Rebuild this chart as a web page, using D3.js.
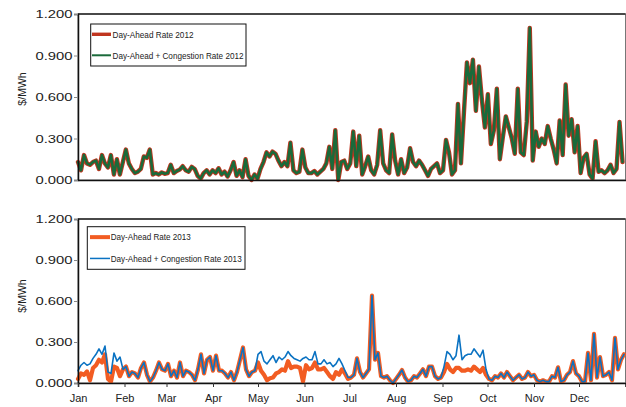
<!DOCTYPE html>
<html>
<head>
<meta charset="utf-8">
<script src="https://cdn.jsdelivr.net/npm/d3@7"></script>
<style>
  html, body { margin: 0; padding: 0; background: #fff; }
  svg { display: block; font-family: "Liberation Sans", Arial, sans-serif; }
</style>
</head>
<body>
<svg id="chart" width="626" height="407"></svg>
<script>
// Daily rates in $/MWh, one value every second day starting 1 January.
const sampleStep = 2;

const dayAhead2012 = [
  0.13, 0.07, 0.18, 0.12, 0.11, 0.13, 0.14, 0.08, 0.18, 0.12,
  0.09, 0.18, 0.04, 0.15, 0.04, 0.13, 0.22, 0.12, 0.08, 0.05,
  0.06, 0.08, 0.17, 0.16, 0.22, 0.04, 0.05, 0.04, 0.055, 0.045,
  0.05, 0.11, 0.05, 0.065, 0.075, 0.10, 0.07, 0.06, 0.095, 0.08,
  0.03, 0.01, 0.05, 0.07, 0.04, 0.07,
  0.05, 0.085, 0.04, 0.06, 0.025, 0.07, 0.13, 0.03, 0.07, 0.02,
  0.15, 0.03, 0.00, 0.04, 0.01, 0.08, 0.13, 0.20, 0.17, 0.205,
  0.19, 0.14, 0.10, 0.13, 0.10, 0.27, 0.07, 0.05, 0.06, 0.22,
  0.09, 0.05, 0.05, 0.065, 0.04, 0.06, 0.08, 0.12, 0.24, 0.08,
  0.36, 0.00, 0.13, 0.14, 0.08, 0.12,
  0.35, 0.10, 0.32, 0.04, 0.10, 0.17, 0.07, 0.04, 0.11, 0.36,
  0.12, 0.07, 0.05, 0.33, 0.14, 0.04, 0.15, 0.05, 0.09, 0.23,
  0.13, 0.10, 0.14, 0.11, 0.07, 0.03, 0.08, 0.10, 0.12, 0.05,
  0.07, 0.29, 0.20, 0.04, 0.07, 0.55, 0.12, 0.49, 0.85, 0.70,
  0.87, 0.50, 0.82, 0.58, 0.38, 0.62,
  0.26, 0.36, 0.66, 0.15, 0.31, 0.46, 0.38, 0.30, 0.19, 0.66,
  0.20, 0.18, 0.42, 1.10, 0.14, 0.35, 0.24, 0.30, 0.26, 0.39,
  0.30, 0.22, 0.12, 0.43, 0.18, 0.69, 0.32, 0.44, 0.20, 0.39,
  0.05, 0.16, 0.19, 0.04, 0.01, 0.28, 0.06, 0.07, 0.05, 0.07,
  0.11, 0.05, 0.08, 0.42, 0.13
];

const congestion2012 = [
  0.13, 0.07, 0.18, 0.12, 0.11, 0.13, 0.14, 0.08, 0.18, 0.12,
  0.09, 0.18, 0.04, 0.15, 0.04, 0.13, 0.22, 0.12, 0.08, 0.05,
  0.06, 0.08, 0.17, 0.16, 0.22, 0.04, 0.05, 0.04, 0.055, 0.045,
  0.05, 0.11, 0.05, 0.065, 0.075, 0.10, 0.07, 0.06, 0.095, 0.08,
  0.03, 0.01, 0.05, 0.07, 0.04, 0.07,
  0.05, 0.085, 0.04, 0.06, 0.025, 0.07, 0.13, 0.03, 0.07, 0.02,
  0.15, 0.03, 0.00, 0.04, 0.01, 0.08, 0.13, 0.20, 0.17, 0.205,
  0.19, 0.14, 0.10, 0.13, 0.10, 0.27, 0.07, 0.05, 0.06, 0.22,
  0.09, 0.05, 0.05, 0.065, 0.04, 0.06, 0.08, 0.12, 0.24, 0.08,
  0.36, 0.00, 0.13, 0.14, 0.08, 0.12,
  0.35, 0.10, 0.32, 0.04, 0.10, 0.17, 0.07, 0.04, 0.11, 0.36,
  0.12, 0.07, 0.05, 0.33, 0.14, 0.04, 0.15, 0.05, 0.09, 0.23,
  0.13, 0.10, 0.14, 0.11, 0.07, 0.03, 0.08, 0.10, 0.12, 0.05,
  0.07, 0.29, 0.20, 0.04, 0.07, 0.55, 0.12, 0.49, 0.85, 0.70,
  0.87, 0.50, 0.82, 0.58, 0.38, 0.62,
  0.26, 0.36, 0.66, 0.15, 0.31, 0.46, 0.38, 0.30, 0.19, 0.66,
  0.20, 0.18, 0.42, 1.10, 0.14, 0.35, 0.24, 0.30, 0.26, 0.39,
  0.30, 0.22, 0.12, 0.43, 0.18, 0.69, 0.32, 0.44, 0.20, 0.39,
  0.05, 0.16, 0.19, 0.04, 0.01, 0.28, 0.06, 0.07, 0.05, 0.07,
  0.11, 0.05, 0.08, 0.42, 0.13
];

const dayAhead2013 = [
  0.03, 0.07, 0.06, 0.085, 0.02, 0.11, 0.13, 0.17, 0.15, 0.21,
  0.03, 0.01, 0.12, 0.11, 0.05, 0.10, 0.12, 0.05, 0.08, 0.07,
  0.04, 0.11, 0.15, 0.06, 0.01, 0.04, 0.09, 0.15, 0.10, 0.09,
  0.14, 0.05, 0.09, 0.04, 0.15, 0.05, 0.09, 0.08, 0.06, 0.02,
  0.10, 0.21, 0.07, 0.17, 0.19, 0.09,
  0.20, 0.09, 0.09, 0.07, 0.04, 0.08, 0.02, 0.08, 0.17, 0.26,
  0.10, 0.05, 0.08, 0.09, 0.15, 0.09, 0.06, 0.02, 0.035, 0.04,
  0.07, 0.08, 0.10, 0.09, 0.16, 0.11, 0.12, 0.12, 0.11, 0.01,
  0.13, 0.10, 0.11, 0.15, 0.10, 0.10, 0.11, 0.08, 0.05, 0.03,
  0.08, 0.06, 0.10, 0.07, 0.03, 0.04,
  0.06, 0.18, 0.08, 0.04, 0.07, 0.10, 0.64, 0.17, 0.22, 0.05,
  0.04, 0.05, 0.02, 0.00, 0.03, 0.06, 0.095, 0.04, 0.01, 0.02,
  0.05, 0.04, 0.07, 0.10, 0.05, 0.12, 0.12, 0.05, 0.03, 0.04,
  0.08, 0.14, 0.10, 0.08, 0.11, 0.11, 0.09, 0.09, 0.10, 0.09,
  0.12, 0.10, 0.08, 0.11, 0.06, 0.03,
  0.02, 0.05, 0.04, 0.07, 0.04, 0.08, 0.05, 0.02, 0.04, 0.06,
  0.03, 0.04, 0.08, 0.05, 0.06, 0.02, 0.01, 0.02, 0.01, 0.01,
  0.05, 0.04, 0.115, 0.01, 0.02, 0.06, 0.08, 0.16, 0.07, 0.05,
  0.01, 0.01, 0.22, 0.02, 0.36, 0.04, 0.19, 0.05, 0.06, 0.08,
  0.02, 0.33, 0.10, 0.17, 0.21
];

const congestion2013 = [
  0.09, 0.13, 0.15, 0.13, 0.14, 0.18, 0.21, 0.25, 0.21, 0.27,
  0.08, 0.07, 0.22, 0.16, 0.19, 0.10, 0.12, 0.05, 0.08, 0.07,
  0.04, 0.11, 0.15, 0.06, 0.01, 0.04, 0.09, 0.15, 0.10, 0.09,
  0.14, 0.05, 0.09, 0.04, 0.15, 0.05, 0.09, 0.08, 0.06, 0.02,
  0.10, 0.21, 0.07, 0.17, 0.19, 0.09,
  0.20, 0.09, 0.09, 0.07, 0.04, 0.08, 0.02, 0.08, 0.17, 0.26,
  0.10, 0.05, 0.08, 0.09, 0.21, 0.23, 0.16, 0.14, 0.17, 0.20,
  0.15, 0.19, 0.17, 0.19, 0.23, 0.20, 0.18, 0.17, 0.16, 0.18,
  0.19, 0.17, 0.17, 0.23, 0.14, 0.14, 0.17, 0.14, 0.15, 0.12,
  0.14, 0.18, 0.14, 0.09, 0.04, 0.04,
  0.06, 0.18, 0.08, 0.04, 0.07, 0.10, 0.64, 0.17, 0.22, 0.05,
  0.04, 0.05, 0.02, 0.00, 0.03, 0.06, 0.095, 0.04, 0.01, 0.02,
  0.05, 0.04, 0.07, 0.10, 0.05, 0.12, 0.12, 0.05, 0.03, 0.04,
  0.12, 0.23, 0.21, 0.17, 0.20, 0.35, 0.17, 0.20, 0.21, 0.21,
  0.25, 0.22, 0.19, 0.24, 0.10, 0.03,
  0.02, 0.05, 0.04, 0.07, 0.04, 0.08, 0.05, 0.02, 0.04, 0.06,
  0.03, 0.04, 0.08, 0.05, 0.06, 0.02, 0.01, 0.02, 0.01, 0.01,
  0.05, 0.04, 0.115, 0.01, 0.02, 0.06, 0.08, 0.16, 0.07, 0.05,
  0.01, 0.01, 0.22, 0.02, 0.36, 0.04, 0.19, 0.05, 0.06, 0.08,
  0.02, 0.33, 0.10, 0.17, 0.21
];

const monthLabels = ["Jan", "Feb", "Mar", "Apr", "May", "Jun",
                     "Jul", "Aug", "Sep", "Oct", "Nov", "Dec"];
const yTicks = [0, 0.3, 0.6, 0.9, 1.2];
const yLabel = "$/MWh";

const svg = d3.select("#chart");
const plotLeft = 78, plotRight = 625.5;

const panels = [
  {
    year: 2012, top: 14, bottom: 180, showMonths: false, labelY: 89,
    legend: { x: 90.7, y: 24, w: 155.3, h: 42, lineX0: 92, lineX1: 111, textX: 112.5 },
    series: [
      { name: "Day-Ahead Rate 2012", values: dayAhead2012, color: "#C0351F", width: 4.4, sample: 3.4, textLen: 81 },
      { name: "Day-Ahead + Congestion Rate 2012", values: congestion2012, color: "#1A6A3A", width: 2.6, sample: 2.0, textLen: 131 }
    ]
  },
  {
    year: 2013, top: 219, bottom: 383, showMonths: true, labelY: 296,
    legend: { x: 87.3, y: 226.7, w: 157.7, h: 42.6, lineX0: 90, lineX1: 110, textX: 110.7 },
    series: [
      { name: "Day-Ahead Rate 2013", values: dayAhead2013, color: "#F25C22", width: 4.2, sample: 4.0, textLen: 80 },
      { name: "Day-Ahead + Congestion Rate 2013", values: congestion2013, color: "#0A72C2", width: 1.6, sample: 1.5, textLen: 131 }
    ]
  }
];

panels.forEach(p => {
  const start = new Date(p.year, 0, 1);
  const end = new Date(p.year + 1, 0, 1);
  const x = d3.scaleTime().domain([start, end]).range([plotLeft, plotRight]);
  const y = d3.scaleLinear().domain([0, 1.2]).range([p.bottom, p.top]);
  const dateAt = i => d3.timeDay.offset(start, i * sampleStep);

  const g = svg.append("g");

  // plot frame
  g.append("rect")
    .attr("x", plotLeft).attr("y", p.top)
    .attr("width", plotRight - plotLeft).attr("height", p.bottom - p.top)
    .attr("fill", "none").attr("stroke", "#777").attr("stroke-width", 1);

  // series lines
  const line = d3.line()
    .x((d, i) => x(dateAt(i)))
    .y(d => y(d));
  p.series.forEach(s => {
    g.append("path")
      .datum(s.values)
      .attr("d", line)
      .attr("fill", "none")
      .attr("stroke", s.color)
      .attr("stroke-width", s.width)
      .attr("stroke-linejoin", "round")
      .attr("stroke-linecap", "round");
  });

  // top edge of the frame
  g.append("line")
    .attr("x1", plotLeft).attr("x2", plotRight)
    .attr("y1", p.top).attr("y2", p.top)
    .attr("stroke", "#222").attr("stroke-width", 1.3);

  // y axis
  const yAxis = g.append("g")
    .attr("transform", `translate(${plotLeft},0)`)
    .call(d3.axisLeft(y).tickValues(yTicks).tickFormat(d3.format(".3f")).tickSize(4).tickPadding(1.5));
  yAxis.select(".domain").attr("stroke", "#111").attr("stroke-width", 1.5);
  yAxis.selectAll(".tick line").attr("stroke", "#888");
  yAxis.selectAll(".tick text")
    .attr("font-size", 11.5).attr("fill", "#222")
    .attr("font-family", "Liberation Sans, Arial, sans-serif")
    .attr("textLength", 37).attr("lengthAdjust", "spacingAndGlyphs");

  // x axis
  const xAxisGen = d3.axisBottom(x)
    .tickValues(d3.timeMonth.range(start, end))
    .tickFormat(d => p.showMonths ? monthLabels[d.getMonth()] : "")
    .tickSize(p.showMonths ? 4 : 0)
    .tickPadding(7.5);
  const xAxis = g.append("g")
    .attr("transform", `translate(0,${p.bottom})`)
    .call(xAxisGen);
  xAxis.select(".domain").attr("stroke", "#111").attr("stroke-width", 1.5);
  xAxis.selectAll(".tick line").attr("stroke", "#333");
  xAxis.selectAll(".tick text")
    .attr("font-size", 11).attr("fill", "#222")
    .attr("font-family", "Liberation Sans, Arial, sans-serif");

  // axis title
  g.append("text")
    .attr("transform", `translate(26,${p.labelY}) rotate(-90)`)
    .attr("text-anchor", "middle")
    .attr("font-size", 10.5).attr("fill", "#222")
    .text(yLabel);

  // legend
  const L = p.legend;
  const lg = g.append("g");
  lg.append("rect")
    .attr("x", L.x).attr("y", L.y).attr("width", L.w).attr("height", L.h)
    .attr("fill", "#fff").attr("stroke", "#111").attr("stroke-width", 1);
  p.series.forEach((s, i) => {
    const cy = L.y + L.h * (i === 0 ? 0.245 : 0.745);
    lg.append("line")
      .attr("x1", L.lineX0).attr("x2", L.lineX1)
      .attr("y1", cy).attr("y2", cy)
      .attr("stroke", s.color).attr("stroke-width", s.sample);
    lg.append("text")
      .attr("x", L.textX).attr("y", cy).attr("dy", "0.35em")
      .attr("font-size", 9.3).attr("fill", "#222")
      .attr("textLength", s.textLen).attr("lengthAdjust", "spacingAndGlyphs")
      .text(s.name);
  });
});
</script>
</body>
</html>
